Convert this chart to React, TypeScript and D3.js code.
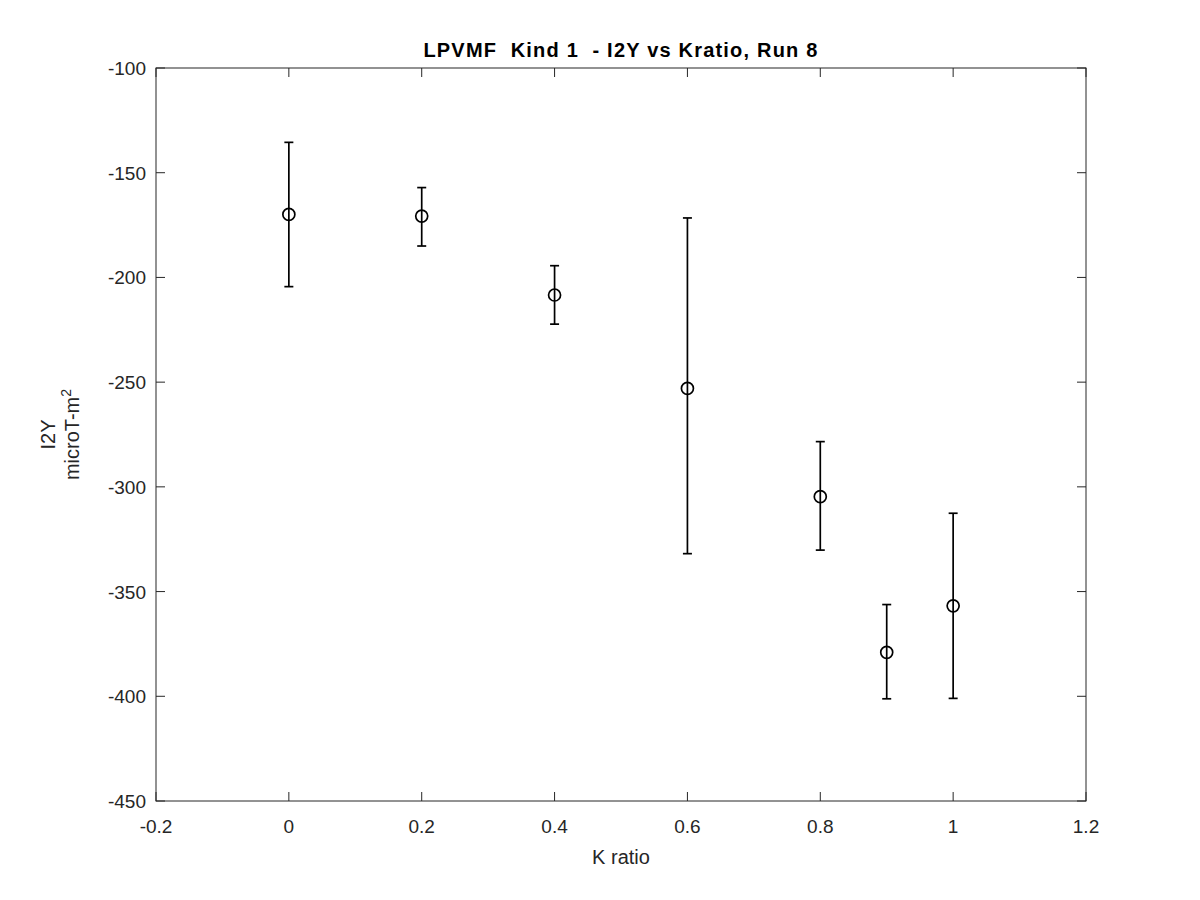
import React from "react";
import * as d3 from "d3";

const kRatio = [0, 0.2, 0.4, 0.6, 0.8, 0.9, 1.0];
const i2y = [-169.9, -170.7, -208.4, -253.0, -304.7, -379.0, -356.8];
const upperBound = [-135.5, -157.1, -194.4, -171.6, -278.4, -356.2, -312.6];
const lowerBound = [-204.4, -185.0, -222.3, -331.9, -330.2, -401.2, -401.0];
const xTicks = [-0.2, 0, 0.2, 0.4, 0.6, 0.8, 1, 1.2];
const yTicks = [-450, -400, -350, -300, -250, -200, -150, -100];

const titleText = "LPVMF  Kind 1  - I2Y vs Kratio, Run 8";
const xLabel = "K ratio";

export default function App() {
  const W = 1200, H = 900;
  const left = 156, right = 1086, top = 68, bottom = 801;
  const x = d3.scaleLinear().domain([-0.2, 1.2]).range([left, right]);
  const y = d3.scaleLinear().domain([-450, -100]).range([bottom, top]);
  const axisColor = "#262626";
  const font = "'Liberation Sans', Arial, Helvetica, sans-serif";
  const tickLen = 9;
  const cap = 4.5;

  return (
    <svg width={W} height={H} style={{ display: "block", position: "absolute", left: 0, top: 0 }}>
      <rect x={0} y={0} width={W} height={H} fill="#ffffff" />
      <rect x={left} y={top} width={right - left} height={bottom - top} fill="#ffffff" stroke={axisColor} strokeWidth={1} />
      {xTicks.map((t) => (
        <g key={"xt" + t}>
          <line x1={x(t)} x2={x(t)} y1={bottom} y2={bottom - tickLen} stroke={axisColor} />
          <line x1={x(t)} x2={x(t)} y1={top} y2={top + tickLen} stroke={axisColor} />
          <text x={x(t)} y={bottom + 32} textAnchor="middle" fontFamily={font} fontSize={19} fill={axisColor}>
            {String(t)}
          </text>
        </g>
      ))}
      {yTicks.map((t) => (
        <g key={"yt" + t}>
          <line x1={left} x2={left + tickLen} y1={y(t)} y2={y(t)} stroke={axisColor} />
          <line x1={right} x2={right - tickLen} y1={y(t)} y2={y(t)} stroke={axisColor} />
          <text x={left - 10} y={y(t) + 7} textAnchor="end" fontFamily={font} fontSize={19} fill={axisColor}>
            {String(t)}
          </text>
        </g>
      ))}
      {kRatio.map((k, i) => (
        <g key={"pt" + i} stroke="#000000" strokeWidth={1.7} fill="none">
          <line x1={x(k)} x2={x(k)} y1={y(upperBound[i])} y2={y(lowerBound[i])} />
          <line x1={x(k) - cap} x2={x(k) + cap} y1={y(upperBound[i])} y2={y(upperBound[i])} />
          <line x1={x(k) - cap} x2={x(k) + cap} y1={y(lowerBound[i])} y2={y(lowerBound[i])} />
          <circle cx={x(k)} cy={y(i2y[i])} r={6} fill="none" />
        </g>
      ))}
      <text x={(left + right) / 2} y={57} textAnchor="middle" fontFamily={font} fontSize={20} letterSpacing={1.2} fontWeight="bold" fill="#000000" style={{ whiteSpace: "pre" }}>
        {titleText}
      </text>
      <text x={(left + right) / 2} y={864} textAnchor="middle" fontFamily={font} fontSize={20} fill={axisColor}>
        {xLabel}
      </text>
      <g transform={`translate(0, ${(top + bottom) / 2}) rotate(-90)`}>
        <text x={0} y={55} textAnchor="middle" fontFamily={font} fontSize={20} fill={axisColor}>I2Y</text>
        <text x={0} y={79} textAnchor="middle" fontFamily={font} fontSize={20} fill={axisColor}>
          microT-m<tspan dy={-8} fontSize={14}>2</tspan>
        </text>
      </g>
    </svg>
  );
}
